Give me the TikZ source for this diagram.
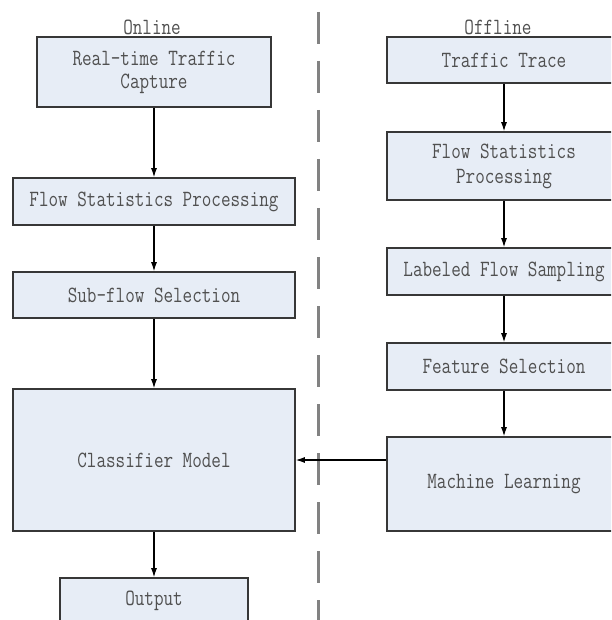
\documentclass[tikz,border=0pt]{standalone}
\usetikzlibrary{arrows.meta}
\definecolor{boxfill}{RGB}{231,237,246}
\definecolor{boxline}{RGB}{55,55,55}
\definecolor{txt}{RGB}{80,80,80}
\definecolor{dashc}{RGB}{130,130,130}
\newcommand{\tl}[1]{\scalebox{1}[1.25]{#1}}
\begin{document}
\begin{tikzpicture}[x=1pt,y=-1pt,
  box/.style={draw=boxline,fill=boxfill,line width=1.6pt,inner sep=0pt,anchor=center,
    text=txt,align=center,font=\ttfamily\fontsize{18.6}{23}\selectfont},
  lbl/.style={text=txt,inner sep=0pt,font=\ttfamily\fontsize{18.6}{23}\selectfont},
  arr/.style={line width=1.1pt,-{Latex[length=9pt,width=6pt]}},
  sep/.style={draw=dashc,line width=3pt,dash pattern=on 32pt off 17pt}]
\useasboundingbox (0,0) rectangle (611,620);
\clip (0,0) rectangle (611,620);
% left column
\node[box,minimum width=234pt,minimum height=70pt] (rt) at (154,72) {\tl{Real-time Traffic}\\[0pt]\tl{Capture}};
\node[box,minimum width=282pt,minimum height=47pt] (fsp1) at (154,201.5) {\tl{Flow Statistics Processing}};
\node[box,minimum width=282pt,minimum height=46pt] (sfs) at (154,295) {\tl{Sub-flow Selection}};
\node[box,minimum width=282pt,minimum height=142pt] (cm) at (154,460) {\tl{Classifier Model}};
\node[box,minimum width=188pt,minimum height=45pt] (out) at (154,600.5) {\tl{Output}};
% right column
\node[box,minimum width=234pt,minimum height=46pt] (tt) at (504,60) {\tl{Traffic Trace}};
\node[box,minimum width=234pt,minimum height=68pt] (fsp2) at (504,166) {\tl{Flow Statistics}\\[2pt]\tl{Processing}};
\node[box,minimum width=234pt,minimum height=47pt] (lfs) at (504,271.5) {\tl{Labeled Flow Sampling}};
\node[box,minimum width=234pt,minimum height=47pt] (fs) at (504,366.5) {\tl{Feature Selection}};
\node[box,minimum width=234pt,minimum height=94pt] (ml) at (504,484) {\tl{Machine Learning}};
% headings
\node[lbl] (on) at (152,27) {\tl{Online}};
\node[lbl] (off) at (498,27) {\tl{Offline}};
% separator
\coordinate (dtop) at (318,12);
\coordinate (dbot) at (318,625);
\draw[sep] (dtop) -- (dbot);
% arrows
\draw[arr] (rt.south) -- (fsp1.north);
\draw[arr] (fsp1.south) -- (sfs.north);
\draw[arr] (sfs.south) -- (cm.north);
\draw[arr] (cm.south) -- (out.north);
\draw[arr] (tt.south) -- (fsp2.north);
\draw[arr] (fsp2.south) -- (lfs.north);
\draw[arr] (lfs.south) -- (fs.north);
\draw[arr] (fs.south) -- (ml.north);
\draw[arr] (ml.west |- cm.east) -- (cm.east);
\end{tikzpicture}
\end{document}
